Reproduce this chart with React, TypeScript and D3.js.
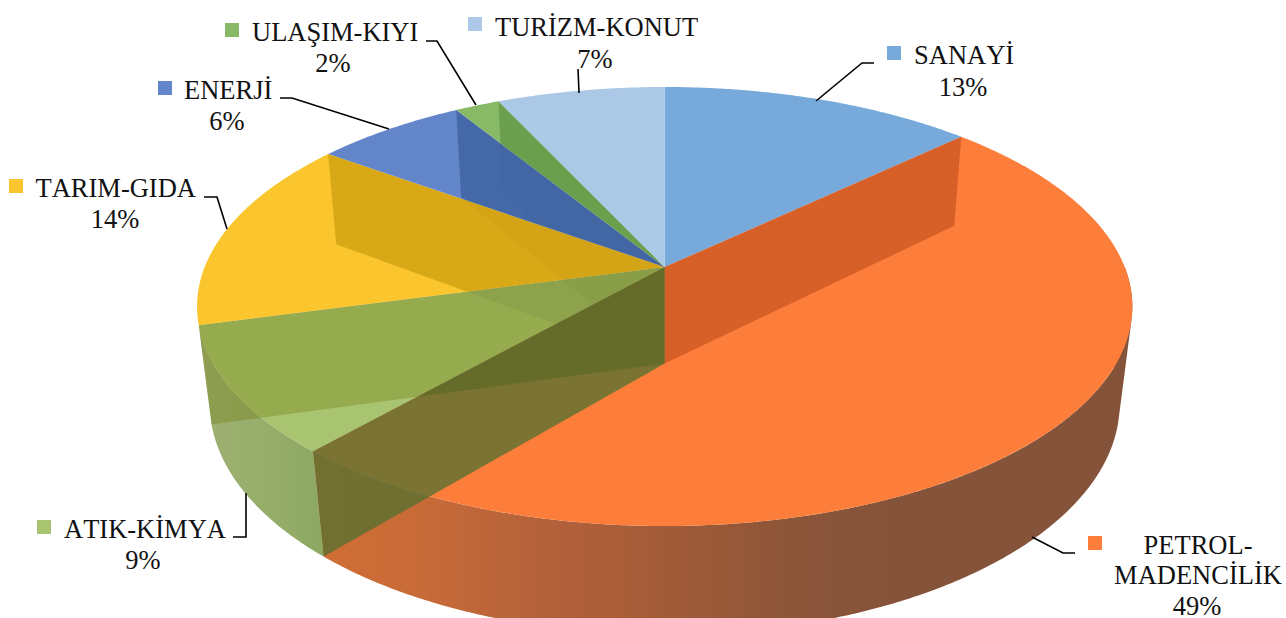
import React from "react";
import * as d3 from "d3";

const categories = ["SANAYİ", "PETROL-MADENCİLİK", "ATIK-KİMYA", "TARIM-GIDA", "ENERJİ", "ULAŞIM-KIYI", "TURİZM-KONUT"];
const shares = [12.9, 48.6, 9.3, 14.2, 6.25, 1.85, 6.9];
const topColors = ["#77AADA", "#FD7E3A", "#A9C470", "#FBC52D", "#6385CA", "#88B966", "#ABC9E6"];

// Label layout (screen placement only)
const nameLines = [["SANAYİ"], ["PETROL-", "MADENCİLİK"], ["ATIK-KİMYA"], ["TARIM-GIDA"], ["ENERJİ"], ["ULAŞIM-KIYI"], ["TURİZM-KONUT"]];
const nameX = [914, 1198, 64, 35.5, 184, 252, 495];
const nameY = [[64], [554, 584], [538], [197], [99], [41], [36]];
const nameAnchor = ["start", "middle", "start", "start", "start", "start", "start"];
const pctX = [963, 1197, 143, 115, 227, 333, 595];
const pctY = [96, 615, 569, 228, 130, 72, 68];
const keyX = [887, 1088, 37, 9, 158, 225, 468];
const keyY = [46, 536, 520, 179, 81, 23, 17];
const leaders: [number, number][][] = [
  [[816, 101], [862, 63], [874, 63]],
  [[1032, 537], [1063, 553], [1075, 553]],
  [[246, 493], [246, 537], [233, 537]],
  [[227, 229], [217, 197], [204, 197]],
  [[389, 129], [292, 98], [280, 98]],
  [[476, 105], [437, 41], [426, 41]],
  [[579, 93], [578, 69]],
];

const petrolWallStops: [number, string][] = [
  [325, "#D06D35"], [420, "#C86B38"], [540, "#B4613A"], [650, "#A55C38"], [800, "#8B5539"], [900, "#85533A"], [1131, "#85533A"],
];
const atikWallStops: [number, string][] = [[205, "#9FB072"], [262, "#97AE6B"], [325, "#8CA863"]];

const CX = 664.7, CY = 267, RX = 460, RY = 212.4, DZ = 99, KY = 0.18, KZ = 0.027;
const project = (a: number, r: number, z: number): [number, number] => {
  const x = r * Math.sin(a), y = r * Math.cos(a);
  const w = 1 + KY * y + KZ * z;
  return [CX + (RX * x) / w, CY - (RY * y - DZ * z) / w];
};

const pieGen = d3.pie<number>().sort(null).startAngle(0).endAngle(2 * Math.PI);
const arcs = pieGen(shares);
const lineGen = d3.line();
const path = (pts: [number, number][]) => lineGen(pts) + "Z";

const sample = (a0: number, a1: number, z: number): [number, number][] => {
  const n = Math.max(2, Math.ceil(Math.abs(a1 - a0) / 0.008));
  return d3.range(n + 1).map((i) => project(a0 + ((a1 - a0) * i) / n, 1, z));
};
const topPath = (i: number) =>
  path([project(0, 0, 0), ...sample(arcs[i].startAngle, arcs[i].endAngle, 0)]);
const wallPath = (a: number) =>
  path([project(a, 1, 0), project(a, 1, 1), project(0, 0, 1), project(0, 0, 0)]);
const stripPath = (a0: number, a1: number) => {
  const t = sample(a0, a1, 0), b = sample(a0, a1, 1);
  return t
    .slice(1)
    .map((p, i) => {
      const q: [number, number][] = [t[i], p, b[i + 1], b[i]];
      return path(d3.polygonArea(q) < 0 ? q.reverse() : q);
    })
    .join("");
};

const edgeSP = arcs[0].endAngle;
const edgePA = arcs[1].endAngle;
const edgeAT = arcs[2].endAngle;
const edgeTE = arcs[3].endAngle;
const edgeEU = arcs[4].endAngle;
const edgeUR = arcs[5].endAngle;

const FONT = "'Liberation Serif','Times New Roman',serif";

function Grad({ id, stops }: { id: string; stops: [number, string][] }) {
  const x0 = stops[0][0], x1 = stops[stops.length - 1][0];
  return (
    <linearGradient id={id} gradientUnits="userSpaceOnUse" x1={x0} x2={x1} y1={0} y2={0}>
      {stops.map(([x, c], i) => (
        <stop key={i} offset={(x - x0) / (x1 - x0)} stopColor={c} />
      ))}
    </linearGradient>
  );
}

export default function App() {
  return (
    <svg width={1286} height={618} style={{ position: "absolute", left: 0, top: 0, display: "block" }}>
      <defs>
        <Grad id="petrolWall" stops={petrolWallStops} />
        <Grad id="atikWall" stops={atikWallStops} />
        {arcs.map((_, i) => (
          <clipPath id={"top" + i} key={i}>
            <path d={topPath(i)} />
          </clipPath>
        ))}
        <clipPath id="wallPA">
          <path d={wallPath(edgePA)} />
        </clipPath>
      </defs>

      {/* outer walls */}
      <path d={stripPath(arcs[2].startAngle, arcs[2].endAngle)} fill="url(#atikWall)" />
      <path d={stripPath(Math.PI * 0.5, arcs[1].endAngle)} fill="url(#petrolWall)" />

      {/* top faces */}
      {arcs.map((_, i) => (
        <path key={i} d={topPath(i)} fill={topColors[i]} />
      ))}

      {/* inner walls seen through the translucent slices */}
      <path d={wallPath(edgeAT)} fill="#677100" fillOpacity={0.3} />
      <path d={wallPath(edgeTE)} fill="#B58B00" fillOpacity={0.5} clipPath="url(#top3)" />
      <path d={wallPath(edgeTE)} fill="#000" fillOpacity={0.05} clipPath="url(#top2)" />
      <path d={wallPath(edgeEU)} fill="#002B58" fillOpacity={0.3} clipPath="url(#top4)" />
      <path d={wallPath(edgeEU)} fill="#000" fillOpacity={0.02} clipPath="url(#top3)" />
      <path d={wallPath(edgeEU)} fill="#000" fillOpacity={0.02} clipPath="url(#top2)" />
      <path d={wallPath(edgeUR)} fill="#246216" fillOpacity={0.3} clipPath="url(#top5)" />
      <path d={wallPath(edgeUR)} fill="#000" fillOpacity={0.02} clipPath="url(#top4)" />
      <path d={wallPath(edgeSP)} fill="#821700" fillOpacity={0.3} />
      <path d={wallPath(edgePA)} fill="#597031" fillOpacity={0.8} />
      <path d={wallPath(edgeAT)} fill="#003C00" fillOpacity={0.1} clipPath="url(#wallPA)" />

      {/* leaders */}
      {leaders.map((pts, i) => (
        <path key={i} d={lineGen(pts) as string} fill="none" stroke="#000" strokeWidth={1.6} />
      ))}

      {/* labels */}
      <g fontFamily={FONT} fontSize={26.5} fill="#111" style={{ fontKerning: "none" }}>
        {categories.map((_, i) => (
          <g key={i}>
            <rect x={keyX[i]} y={keyY[i]} width={14} height={14} fill={topColors[i]} />
            {nameLines[i].map((t, j) => (
              <text key={j} x={nameX[i]} y={nameY[i][j]} textAnchor={nameAnchor[i]}>
                {t}
              </text>
            ))}
            <text x={pctX[i]} y={pctY[i]} textAnchor="middle">
              {Math.round(shares[i]) + "%"}
            </text>
          </g>
        ))}
      </g>
    </svg>
  );
}
